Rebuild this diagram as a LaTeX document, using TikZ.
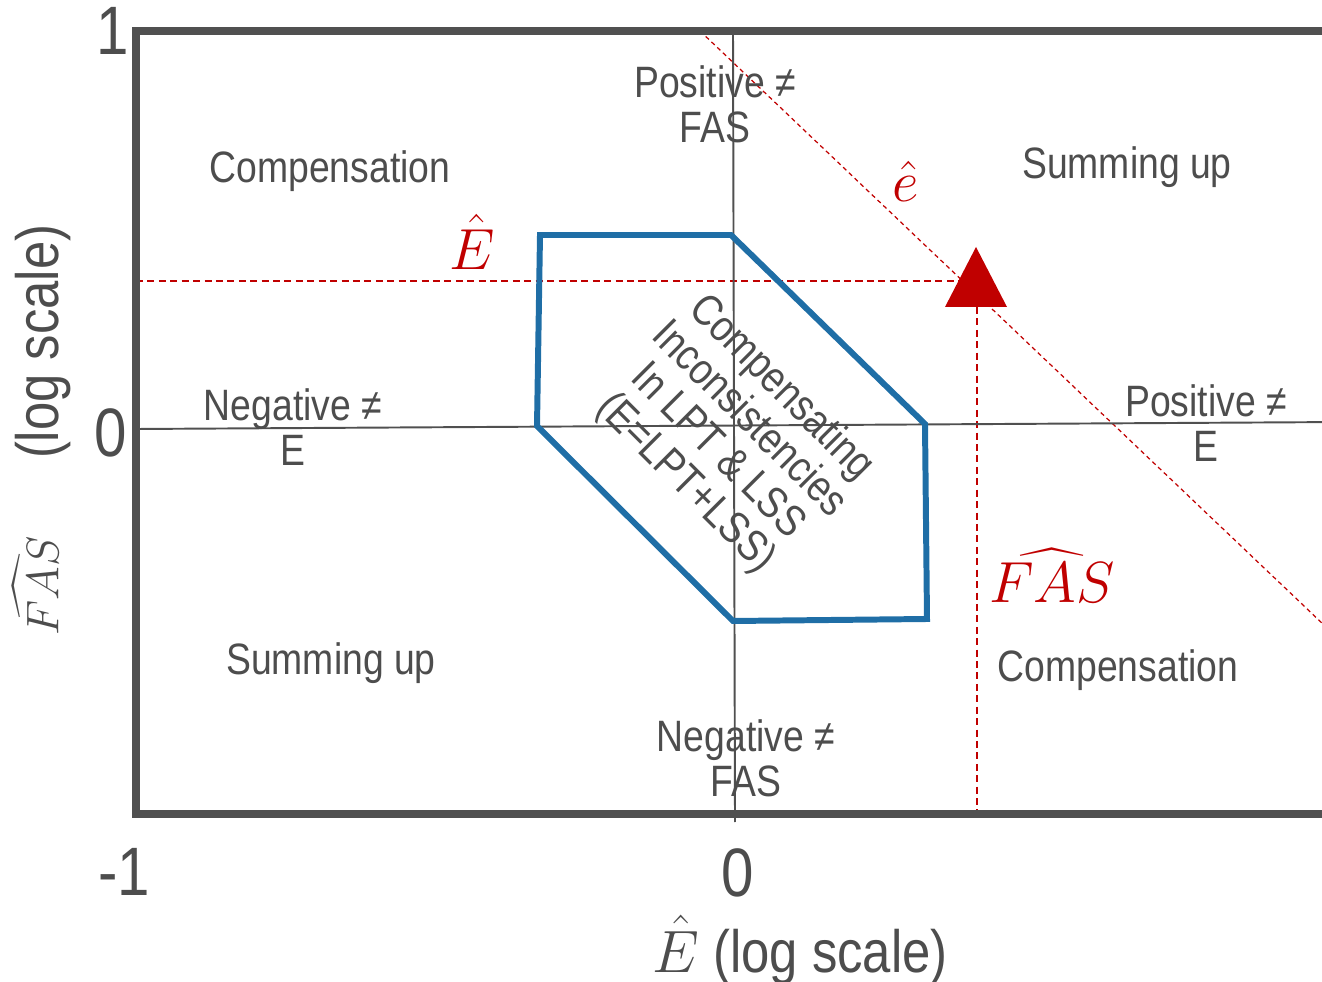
\RequirePackage{fix-cm}
\documentclass[tikz,border=0pt]{standalone}
\usepackage{amsmath}
\usepackage{fontspec}
\newfontfamily\plotfont{Liberation Sans}[FakeStretch=0.85]
\usepackage{tikz}
\usetikzlibrary{calc}
\usepackage{xcolor}
\definecolor{axisgrey}{HTML}{505050}
\definecolor{labelgrey}{HTML}{4D4D4D}
\definecolor{estred}{HTML}{C00000}
\definecolor{zoneblue}{HTML}{1F6EA6}
\tikzset{
  frameline/.style={draw=axisgrey, line width=4.5pt},
  axisline/.style={draw=axisgrey, line width=1.1pt},
  zoneline/.style={draw=zoneblue, line width=3.4pt, line join=miter},
  guideline/.style={draw=estred, line width=0.8pt, dash pattern=on 4pt off 2.5pt},
  diagline/.style={draw=estred, line width=0.7pt, dash pattern=on 2.5pt off 2pt},
  regionlab/.style={font=\plotfont\fontsize{25}{25.6}\selectfont, text=labelgrey,
                    align=center, inner sep=0pt},
  ticklab/.style={font=\plotfont\fontsize{39}{40}\selectfont, text=labelgrey, inner sep=0pt},
  axislab/.style={font=\plotfont\fontsize{34}{36}\selectfont, text=labelgrey, inner sep=0pt},
  estlab/.style={font=\fontsize{33}{36}\selectfont, text=estred, inner sep=0pt},
}

\begin{document}
\begin{tikzpicture}[x=0.02cm, y=-0.02cm]
  \clip (0,0) rectangle (1322,982);

  % --- Frame corners and axes ---
  \coordinate (tl) at (136, 31);
  \coordinate (br) at (1345, 814);
  \coordinate (xl) at (136, 429);
  \coordinate (xr) at (1345, 422);
  \coordinate (yt) at (733, 31);
  \coordinate (yb) at (735, 822);

  % --- Estimate point and guides ---
  \coordinate (tip)  at (976, 247);
  \coordinate (tbl)  at (945, 307);
  \coordinate (tbr)  at (1007, 307);
  \coordinate (hl)   at (136, 281);
  \coordinate (hr)   at (976, 281);
  \coordinate (vt)   at (977, 307);
  \coordinate (vb)   at (977, 814);
  \coordinate (dtop) at (700, 31);
  \coordinate (dbot) at (1345, 645);

  \draw[diagline]  (dtop) -- (dbot);
  \draw[guideline] (hl) -- (hr);
  \draw[guideline] (vt) -- (vb);

  \draw[axisline] (xl) -- (xr);
  \draw[axisline] (yt) -- (yb);

  % --- Compensating zone ---
  \coordinate (z1) at (540, 235);
  \coordinate (z2) at (731, 235);
  \coordinate (z3) at (925, 424);
  \coordinate (z4) at (927, 619);
  \coordinate (z5) at (733, 621);
  \coordinate (z6) at (537, 426);
  \draw[zoneline] (z1) -- (z2) -- (z3) -- (z4) -- (z5) -- (z6) -- cycle;

  \draw[frameline] (br) |- (tl) |- (br);

  \fill[estred] (tip) -- (tbl) -- (tbr) -- cycle;

  % --- Region labels ---
  \node[regionlab] (compTL) at (330, 171)  {Compensation};
  \node[regionlab] (posFAS) at (715, 104)  {Positive ≠\\FAS};
  \node[regionlab] (sumTR)  at (1127, 167) {Summing up};
  \node[regionlab] (negE)   at (293, 427)  {Negative ≠\\E};
  \node[regionlab] (posE)   at (1206, 423) {Positive ≠\\E};
  \node[regionlab] (sumBL)  at (331, 663)  {Summing up};
  \node[regionlab] (compBR) at (1118, 670) {Compensation};
  \node[regionlab] (negFAS) at (746, 758)  {Negative ≠\\FAS};
  \node[regionlab, rotate=-45] (zonetext) at (733, 436)
    {Compensating\\Inconsistencies\\In LPT \& LSS\\(E=LPT+LSS)};

  % --- Estimates ---
  \node[estlab] (Ehat)   at (472, 242)  {$\hat{E}$};
  \node[estlab] (ehat)   at (906, 181)  {$\hat{e}$};
  \node[estlab] (FAShat) at (1052, 576) {$\widehat{FAS}$};

  % --- Ticks and axis titles ---
  \node[ticklab] (ytop) at (113, 31)   {1};
  \node[ticklab] (ymid) at (111, 433)  {0};
  \node[ticklab] (xlow) at (124, 872)  {-1};
  \node[ticklab] (xmid) at (738, 873)  {0};
  \node[ticklab] (xtop) at (1336, 873) {1};

  \node[axislab] (xtitle) at (800, 950) {$\hat{E}$ (log scale)};
  \node[axislab, rotate=90] (ytitle) at (42, 430)
    {{\fontsize{26}{28}\selectfont$\widehat{FAS}$}\hspace{1.55cm}(log scale)};
\end{tikzpicture}
\end{document}
